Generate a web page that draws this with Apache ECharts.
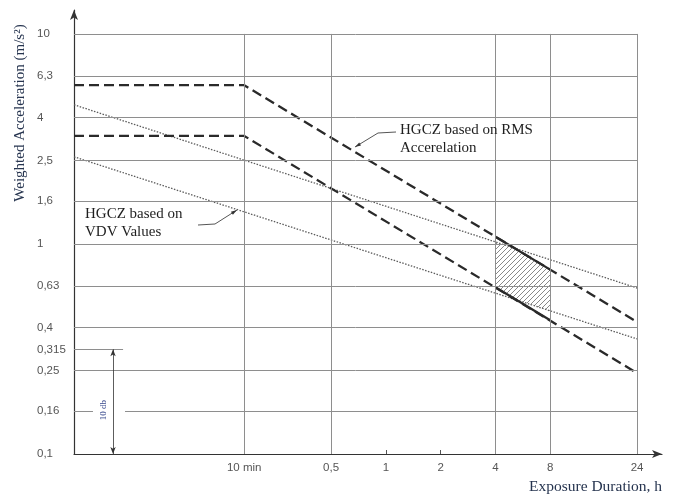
<!DOCTYPE html>
<html>
<head>
<meta charset="utf-8">
<script src="https://cdn.jsdelivr.net/npm/echarts@6/dist/echarts.min.js"></script>
<style>
  html, body { margin: 0; padding: 0; background: #fff; }
  #main { width: 676px; height: 495px; }
</style>
</head>
<body>
<div id="main"></div>
<script>
// axis range (hours / m/s^2), log scales
const xMin = 0.01935, xMax = 32.9;
const yMin = 0.1, yMax = 13;

// tick values and labels
const xTickValues = [1 / 6, 0.5, 1, 2, 4, 8, 24];
const xTickLabels = ['10 min', '0,5', '1', '2', '4', '8', '24'];
const xGridValues = [1 / 6, 0.5, 4, 8, 24];
const yTickValues = [0.1, 0.16, 0.25, 0.315, 0.4, 0.63, 1, 1.6, 2.5, 4, 6.3, 10];
const yGridValues = [0.25, 0.4, 0.63, 1, 1.6, 2.5, 4, 6.3, 10];

// HGCZ based on RMS acceleration (upper / lower bounds)
const rmsUpper = [[xMin, 5.7], [1 / 6, 5.7], [24, 0.425]];
const rmsLower = [[xMin, 3.27], [1 / 6, 3.27], [24, 0.243]];
// solid parts between 4 h and 8 h
const rmsUpperSolid = [[4, 1.083], [8, 0.755]];
const rmsLowerSolid = [[4, 0.622], [8, 0.433]];

// HGCZ based on VDV values
const vdvUpper = [[xMin, 4.6], [24, 0.617]];
const vdvLower = [[xMin, 2.6], [24, 0.353]];

// hatched overlap 4..8 h
const hatchTop = [[4, 1.02], [5.1, 0.955], [8, 0.755]];
const hatchBottom = [[4, 0.622], [5.2, 0.542], [8, 0.48]];

var myChart = echarts.init(document.getElementById('main'));

// hatch pattern
var pc = document.createElement('canvas');
pc.width = 5; pc.height = 5;
var pctx = pc.getContext('2d');
pctx.strokeStyle = '#6a6a6a';
pctx.lineWidth = 0.8;
pctx.beginPath();
pctx.moveTo(0, 5); pctx.lineTo(5, 0);
pctx.moveTo(-1, 1); pctx.lineTo(1, -1);
pctx.moveTo(4, 6); pctx.lineTo(6, 4);
pctx.stroke();

var gridLines = [];
yGridValues.forEach(function (v) {
  gridLines.push([{ coord: [xMin, v] }, { coord: [24, v] }]);
});
xGridValues.forEach(function (t) {
  gridLines.push([{ coord: [t, yMin] }, { coord: [t, 10] }]);
});
// 0.16 line is broken around the 10 db mark
gridLines.push([{ coord: [xMin, 0.16] }, { coord: [0.0246, 0.16] }]);
gridLines.push([{ coord: [0.0369, 0.16] }, { coord: [24, 0.16] }]);
// short line at 0.315
gridLines.push([{ coord: [xMin, 0.315] }, { coord: [0.036, 0.315] }]);

var dashStyle = { color: '#2a2a2a', width: 2.3, type: [10, 5] };
var dotStyle = { color: '#5c5c5c', width: 1.3, type: [1.5, 1.5] };

var option = {
  animation: false,
  grid: { left: 74, right: 14, top: 10, bottom: 41 },
  xAxis: {
    type: 'log',
    min: xMin,
    max: xMax,
    axisLine: {
      lineStyle: { color: '#333', width: 1.2 },
      symbol: ['none', 'arrow'],
      symbolSize: [6, 10]
    },
    axisTick: {
      show: true,
      inside: true,
      length: 4,
      customValues: [1, 2],
      lineStyle: { color: '#555' }
    },
    splitLine: { show: false },
    minorTick: { show: false },
    axisLabel: {
      customValues: xTickValues,
      margin: 8,
      color: '#555',
      fontFamily: 'Liberation Sans',
      fontSize: 11.5,
      formatter: function (v) {
        for (var i = 0; i < xTickValues.length; i++) {
          if (Math.abs(xTickValues[i] - v) < 1e-6) return xTickLabels[i];
        }
        return '';
      }
    }
  },
  yAxis: {
    type: 'log',
    min: yMin,
    max: yMax,
    axisLine: {
      show: true,
      lineStyle: { color: '#333', width: 1.2 },
      symbol: ['none', 'arrow'],
      symbolSize: [6, 10]
    },
    axisTick: { show: false },
    splitLine: { show: false },
    axisLabel: {
      customValues: yTickValues,
      align: 'left',
      margin: 37,
      color: '#555',
      fontFamily: 'Liberation Sans',
      fontSize: 11.5,
      formatter: function (v) { return String(v).replace('.', ','); }
    }
  },
  series: [
    {
      type: 'line',
      data: [],
      silent: true,
      markLine: {
        silent: true,
        symbol: 'none',
        label: { show: false },
        lineStyle: { color: '#8e8e8e', width: 1, type: 'solid' },
        data: gridLines
      }
    },
    {
      type: 'line',
      data: [],
      silent: true,
      markLine: {
        silent: true,
        symbol: ['arrow', 'arrow'],
        symbolSize: [4, 7],
        label: { show: false },
        lineStyle: { color: '#333', width: 0.8, type: 'solid' },
        data: [[{ coord: [0.0317, 0.1] }, { coord: [0.0317, 0.315] }]]
      }
    },
    {
      type: 'custom',
      silent: true,
      data: [[4, 1]],
      renderItem: function (params, api) {
        var pts = hatchTop.concat(hatchBottom.slice().reverse()).map(function (p) {
          return api.coord(p);
        });
        return {
          type: 'polygon',
          shape: { points: pts },
          style: { fill: { image: pc, repeat: 'repeat' }, stroke: null }
        };
      }
    },
    { type: 'line', data: vdvUpper, symbol: 'none', lineStyle: dotStyle },
    { type: 'line', data: vdvLower, symbol: 'none', lineStyle: dotStyle },
    { type: 'line', data: rmsUpper, symbol: 'none', lineStyle: dashStyle },
    { type: 'line', data: rmsLower, symbol: 'none', lineStyle: dashStyle },
    { type: 'line', data: rmsUpperSolid, symbol: 'none', lineStyle: { color: '#2a2a2a', width: 2.2 } },
    { type: 'line', data: rmsLowerSolid, symbol: 'none', lineStyle: { color: '#2a2a2a', width: 2.2 } }
  ],
  graphic: [
    {
      type: 'text', x: 20, y: 113, rotation: Math.PI / 2, z: 10,
      style: {
        text: 'Weighted Acceleration (m/s²)', fill: '#26344f',
        font: '15px "Liberation Serif"', align: 'center', verticalAlign: 'middle'
      }
    },
    {
      type: 'text', x: 662, y: 487, z: 10,
      style: {
        text: 'Exposure Duration, h', fill: '#26344f',
        font: '15.5px "Liberation Serif"', align: 'right', verticalAlign: 'middle'
      }
    },
    {
      type: 'text', x: 400, y: 121, z: 10,
      style: {
        text: 'HGCZ based on RMS\nAccerelation', fill: '#1e1e1e',
        font: '15px "Liberation Serif"', lineHeight: 18, align: 'left', verticalAlign: 'top'
      }
    },
    {
      type: 'text', x: 85, y: 205, z: 10,
      style: {
        text: 'HGCZ based on\nVDV Values', fill: '#1e1e1e',
        font: '15px "Liberation Serif"', lineHeight: 18, align: 'left', verticalAlign: 'top'
      }
    },
    {
      type: 'text', x: 104, y: 410, rotation: Math.PI / 2, z: 10,
      style: {
        text: '10 db', fill: '#34458a',
        font: '9px "Liberation Serif"', align: 'center', verticalAlign: 'middle'
      }
    },
    {
      type: 'polyline', z: 10,
      shape: { points: [[355, 147], [378, 133], [396, 132]] },
      style: { stroke: '#555', lineWidth: 1, fill: null }
    },
    {
      type: 'polygon', z: 10,
      shape: { points: [[355, 147], [361, 145.4], [359.2, 142.4]] },
      style: { fill: '#333' }
    },
    {
      type: 'polyline', z: 10,
      shape: { points: [[198, 225], [215, 224], [237, 210]] },
      style: { stroke: '#555', lineWidth: 1, fill: null }
    },
    {
      type: 'polygon', z: 10,
      shape: { points: [[237, 210], [232.9, 214.7], [230.9, 211.7]] },
      style: { fill: '#333' }
    }
  ]
};

myChart.setOption(option);
</script>
</body>
</html>
